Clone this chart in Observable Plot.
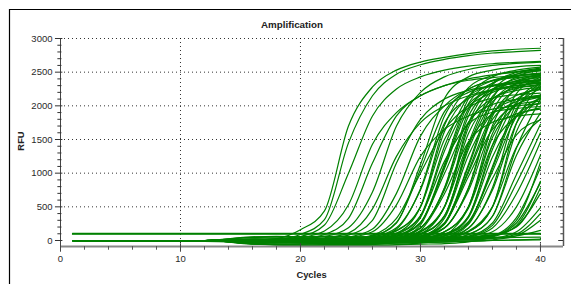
<!DOCTYPE html>
<html><head><meta charset="utf-8">
<script src="https://cdn.jsdelivr.net/npm/d3@7"></script>
<script src="https://cdn.jsdelivr.net/npm/@observablehq/plot@0.6"></script>
<style>
html,body{margin:0;padding:0;background:#fff;}
#wrap{position:relative;width:571px;height:284px;overflow:hidden;background:#fff;}
</style></head><body><div id="wrap"></div>
<script>
const cycles = [1, 12, 16, 18, 20, 22, 24, 26, 28, 30, 32, 34, 36, 38, 40];

// RFU values (one row per well), read at the cycles above
const earlyCurves = [
  [0, 0, 5, 30, 160, 440, 1700, 2280, 2530, 2650, 2720, 2775, 2815, 2840, 2855],
  [0, 0, 10, 20, 90, 310, 1450, 2150, 2470, 2610, 2690, 2745, 2785, 2805, 2825],
  [0, 0, 0, 15, 60, 230, 1000, 1850, 2250, 2430, 2530, 2590, 2625, 2645, 2660],
  [0, 0, -10, 10, 40, 140, 530, 1430, 1900, 2150, 2300, 2400, 2460, 2500, 2530],
  [0, 0, -10, 0, 20, 90, 330, 1150, 1850, 2150, 2300, 2380, 2420, 2450, 2470],
  [0, 0, 5, 10, 30, 60, 190, 720, 1700, 2200, 2430, 2540, 2600, 2630, 2650],
  [0, 0, -20, -10, 10, 40, 110, 470, 1250, 1750, 2000, 2150, 2240, 2300, 2340],
  [0, 0, 0, -15, 0, 30, 80, 300, 1150, 1800, 2100, 2230, 2300, 2340, 2370],
  [0, 0, -10, -30, -20, 10, 50, 170, 700, 1550, 2000, 2250, 2380, 2440, 2480],
  [0, 0, 10, -20, -10, 10, 40, 130, 530, 1250, 1650, 1850, 1950, 2000, 2030],
  [0, 0, -20, -40, -30, -10, 20, 80, 330, 1000, 1650, 2000, 2200, 2320, 2390]
];

const midCurves = [
  [0, 0, -10, -5, 0, 5, 15, 65, 260, 1130, 2110, 2430, 2530, 2580, 2600],
  [0, 0, -20, -25, -30, -25, -20, 25, 170, 770, 1850, 2245, 2370, 2420, 2445],
  [0, 0, 10, 5, 10, 20, 30, 55, 190, 750, 1740, 2110, 2230, 2275, 2295],
  [0, 0, -45, -60, -70, -65, -50, -10, 100, 500, 1710, 2270, 2450, 2510, 2540],
  [0, 0, 0, 10, 5, 10, 20, 40, 140, 500, 1500, 1970, 2115, 2165, 2190],
  [0, 0, 20, 10, 15, 20, 25, 40, 110, 370, 1400, 2140, 2375, 2450, 2485],
  [0, 0, -15, -20, -30, -35, -30, -10, 60, 340, 1330, 2020, 2235, 2300, 2335],
  [0, 0, 5, 0, -5, 0, 10, 25, 95, 360, 1175, 1730, 1905, 1960, 1990],
  [0, 0, 0, -10, -10, -5, 0, 15, 65, 260, 1130, 2105, 2430, 2530, 2575],
  [0, 0, -55, -65, -75, -70, -60, -45, 20, 230, 1070, 1955, 2250, 2340, 2380],
  [0, 0, 10, 15, 20, 20, 25, 35, 80, 270, 995, 1760, 2020, 2095, 2130],
  [0, 0, -5, -10, -5, 0, 5, 10, 45, 185, 785, 1915, 2335, 2470, 2520],
  [0, 0, 20, 25, 20, 25, 30, 35, 60, 190, 750, 1740, 2110, 2230, 2275],
  [0, 0, -20, -30, -35, -40, -40, -35, 0, 150, 695, 1465, 1755, 1845, 1880],
  [0, 0, 0, 5, 0, 5, 5, 10, 30, 130, 500, 1680, 2230, 2400, 2460],
  [0, 0, -25, -30, -40, -45, -50, -45, -20, 90, 500, 1590, 2100, 2260, 2315],
  [0, 0, 15, 10, 20, 15, 20, 25, 45, 140, 500, 1445, 1885, 2020, 2070],
  [0, 0, -10, -5, -10, -10, -5, 0, 20, 90, 360, 1445, 2220, 2470, 2545],
  [0, 0, 5, 0, 5, 0, 5, 10, 30, 95, 360, 1355, 2060, 2280, 2350],
  [0, 0, -50, -65, -75, -75, -70, -60, -30, 50, 330, 1265, 1895, 2095, 2155],
  [0, 0, 10, 10, 5, 10, 10, 10, 15, 65, 260, 1100, 2030, 2340, 2435],
  [0, 0, -15, -20, -25, -20, -20, -15, 0, 50, 240, 1040, 1875, 2155, 2240],
  [0, 0, 0, 5, 10, 5, 10, 10, 20, 60, 250, 950, 1650, 1880, 1950],
  [0, 0, -5, 0, -5, -10, -5, 0, 10, 45, 185, 775, 1845, 2245, 2370],
  [0, 0, 45, 50, 55, 60, 55, 50, 45, 70, 190, 740, 1675, 2020, 2130],
  [0, 0, -10, -15, -20, -20, -15, -15, -10, 20, 125, 500, 1710, 2275, 2450],
  [0, 0, 5, 5, 0, 5, 0, 5, 10, 30, 130, 500, 1590, 2100, 2260],
  [0, 0, -45, -60, -70, -75, -75, -70, -60, -35, 70, 480, 1415, 1840, 1970],
  [0, 0, 0, 10, 10, 5, 10, 15, 15, 25, 95, 360, 1355, 2060, 2280],
  [0, 0, -10, -20, -20, -25, -30, -25, -20, 0, 75, 340, 1240, 1855, 2045],
  [0, 0, 5, 5, 0, 0, 5, 0, 5, 15, 65, 260, 1100, 2030, 2340],
  [0, 0, 50, 55, 50, 55, 50, 45, 45, 50, 90, 280, 1025, 1840, 2110],
  [0, 0, -20, -25, -30, -30, -35, -35, -30, -20, 40, 240, 920, 1570, 1790],
  [0, 0, 0, 0, 5, 0, 5, 5, 10, 15, 45, 185, 750, 1740, 2110],
  [0, 0, -5, -10, -15, -10, -10, -5, 0, 10, 30, 130, 500, 1620, 2145],
  [0, 0, 15, 20, 15, 20, 20, 20, 20, 25, 45, 140, 500, 1385, 1800],
  [0, 0, -10, -15, -20, -25, -25, -20, -20, -10, 10, 90, 360, 1265, 1895],
  [0, 0, 5, 10, 5, 10, 5, 10, 10, 20, 30, 65, 260, 980, 1725],
  [0, 0, 0, 5, 10, 15, 25, 70, 270, 1055, 1915, 2200, 2290, 2330, 2350],
  [0, 0, 15, 20, 25, 30, 35, 60, 150, 500, 1620, 2145, 2305, 2360, 2390],
  [0, 0, -5, 0, 0, 5, 5, 20, 70, 260, 1100, 2030, 2340, 2435, 2480],
  [0, 0, 10, 5, 0, 5, 0, 5, 40, 180, 775, 1845, 2245, 2370, 2420],
  [0, 0, 0, -5, -10, -10, -5, 0, 25, 125, 500, 1740, 2315, 2495, 2560],
  [0, 0, 20, 15, 20, 20, 25, 25, 40, 105, 370, 1400, 2140, 2375, 2450],
  [0, 0, -5, -10, -10, -15, -10, -10, 5, 60, 255, 1130, 2105, 2430, 2530],
  [0, 0, 0, 5, 0, 5, 0, 5, 5, 45, 185, 785, 1915, 2335, 2470],
  [0, 0, 10, 15, 10, 15, 10, 15, 15, 35, 130, 500, 1530, 2015, 2160],
  [0, 0, -5, -5, -5, 0, -5, 0, 0, 20, 90, 360, 1420, 2180, 2420],
  [0, 0, 0, 0, 5, 5, 0, 5, 10, 15, 65, 260, 1070, 1955, 2250],
  [0, 0, -20, -15, -20, -25, -20, -20, -15, -10, 30, 180, 785, 1915, 2335],
  [0, 0, 5, 10, 5, 10, 10, 10, 15, 20, 35, 130, 500, 1740, 2315],
  [0, 0, -10, -5, -10, -5, -10, -5, -5, 0, 20, 90, 360, 1375, 2100],
  [0, 0, 10, 5, 10, 10, 15, 10, 20, 65, 260, 1010, 1800, 2065, 2145]
];

const lateCurves = [
  [0, 0, -15, -20, -25, -20, -25, -25, -20, -15, 0, 45, 185, 695, 1465],
  [0, 0, 10, 5, 10, 15, 10, 15, 15, 20, 25, 40, 130, 500, 1265],
  [0, 0, -50, -60, -65, -70, -70, -70, -65, -55, -45, -20, 60, 340, 1085],
  [0, 0, 0, 5, 0, 5, 10, 5, 10, 10, 15, 25, 65, 260, 860],
  [0, 0, 20, 15, 20, 25, 20, 25, 25, 30, 30, 45, 75, 210, 700],
  [0, 0, -10, -10, -15, -10, -15, -10, -10, -5, 0, 10, 30, 130, 490],
  [0, 0, 5, 0, 5, 0, 5, 10, 5, 10, 10, 20, 30, 95, 400],
  [0, 0, -20, -25, -30, -35, -35, -30, -30, -25, -20, -10, 10, 70, 300],
  [0, 0, 10, 15, 10, 15, 20, 15, 20, 20, 25, 30, 45, 70, 150],
  [0, 0, 0, -5, 0, -5, 0, 0, 5, 5, 15, 55, 225, 850, 1600],
  [0, 0, 15, 10, 15, 10, 15, 20, 15, 20, 20, 35, 70, 300, 1160],
  [0, 0, -5, -5, -10, -5, -10, -10, -5, -5, 0, 15, 55, 225, 880],
  [0, 0, 55, 60, 55, 60, 55, 55, 50, 50, 50, 60, 85, 200, 780]
];

const flatCurves = [
  [100, 100, 100, 100, 100, 100, 100, 100, 100, 100, 100, 100, 100, 100, 100],
  [94, 94, 94, 94, 94, 94, 94, 94, 94, 94, 94, 94, 94, 94, 94],
  [106, 106, 106, 106, 106, 106, 106, 106, 106, 106, 106, 106, 106, 106, 106],
  [0, 0, 10, 5, 0, -10, -20, -30, -35, -30, -20, -10, 0, 5, 10],
  [0, 0, -5, 0, 10, 20, 30, 35, 30, 25, 30, 35, 40, 45, 50],
  [-15, -15, -40, -55, -65, -60, -50, -45, -40, -30, -20, -10, 0, 10, 20]
];

// Axis ticks
const xTicks = [0, 10, 20, 30, 40];
const yTicks = [0, 500, 1000, 1500, 2000, 2500, 3000];

const xMax = 41.92, yMin = -89, yMax = 3000;
const xMinor = d3.range(2, 42, 2).filter(d => d % 10 !== 0);
const yMinor = d3.range(100, 3000, 100).filter(d => d % 500 !== 0);

const rows = [];
let id = 0;
for (const group of [earlyCurves, midCurves, lateCurves, flatCurves]) {
  for (const curve of group) {
    curve.forEach((v, i) => rows.push({id, cycle: cycles[i], rfu: v}));
    id++;
  }
}

const tickColor = "#333";
const svg = Plot.plot({
  width: 571, height: 284,
  marginLeft: 60, marginRight: 8, marginTop: 38, marginBottom: 38,
  x: {domain: [0, xMax], axis: null},
  y: {domain: [yMin, yMax], axis: null},
  style: {fontFamily: "'Liberation Sans', Arial, sans-serif", fontSize: "9.5px", background: "transparent", overflow: "visible"},
  marks: [
    Plot.ruleY(yTicks.filter(d => d > 0), {stroke: "#000", strokeOpacity: 0.8, strokeDasharray: "1,3"}),
    Plot.ruleX(xTicks.filter(d => d > 0), {stroke: "#000", strokeOpacity: 0.8, strokeDasharray: "1,3"}),
    Plot.line(rows, {x: "cycle", y: "rfu", z: "id", stroke: "#008000", strokeWidth: 1.2, curve: "monotone-x"}),
    Plot.ruleX([0], {stroke: "#444"}),
    Plot.ruleX([xMax], {stroke: "#555", strokeWidth: 1.5}),
    Plot.ruleY([yMin], {stroke: "#888", strokeWidth: 2}),
    Plot.ruleY(yTicks, {x1: -0.42, x2: 0.2, stroke: tickColor}),
    Plot.ruleY(yMinor, {x1: -0.22, x2: 0.12, stroke: tickColor}),
    Plot.ruleY(yTicks, {x1: xMax - 0.4, x2: xMax, stroke: tickColor}),
    Plot.ruleY(yMinor, {x1: xMax - 0.22, x2: xMax, stroke: tickColor}),
    Plot.ruleX(xMinor, {y1: yMin, y2: yMin - 55, stroke: "#555"}),
    Plot.ruleX(xTicks, {y1: yMin + 40, y2: yMin - 85, stroke: "#444"}),
    Plot.text(yTicks, {x: 0, y: d => d, dx: -8, textAnchor: "end", fill: "#2a2a2a", text: d => String(d)}),
    Plot.text(xTicks, {x: d => d, y: yMin, dy: 12, fill: "#2a2a2a", text: d => String(d)})
  ]
});

const s = d3.select(svg);
s.append("path").attr("d", "M9.5,284V9.5H571").attr("fill", "none").attr("stroke", "#000").attr("stroke-width", 1.2);
s.append("text").attr("x", 292).attr("y", 28).attr("text-anchor", "middle")
  .attr("font-weight", "bold").attr("font-size", "9.8px").attr("fill", "#222").text("Amplification");
s.append("text").attr("x", 311.5).attr("y", 278).attr("text-anchor", "middle")
  .attr("font-weight", "bold").attr("font-size", "9.4px").attr("fill", "#222").text("Cycles");
s.append("text").attr("transform", "translate(23.5,141) rotate(-90)").attr("text-anchor", "middle")
  .attr("font-weight", "bold").attr("font-size", "9.4px").attr("fill", "#222").text("RFU");

document.getElementById("wrap").appendChild(svg);
</script>
</body></html>
